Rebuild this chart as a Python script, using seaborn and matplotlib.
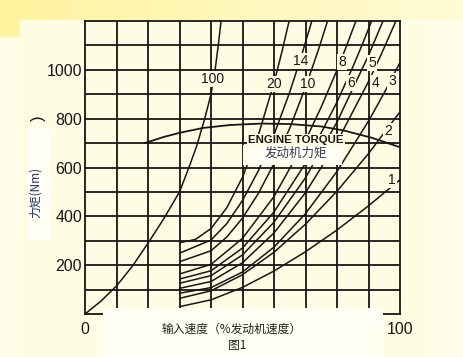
import numpy as np
import matplotlib
matplotlib.use('Agg')
import matplotlib.pyplot as plt
from matplotlib.patches import Rectangle
import seaborn as sns

# values: input speed (% engine speed) vs torque (Nm)
speed_100 = [0, 5, 10, 15, 20, 25, 30, 33, 35.5, 38, 40, 41.3, 42.3, 43.2]
torque_100 = [0, 52, 115, 195, 290, 390, 500, 600, 690, 800, 900, 1000, 1100, 1200]

speed_20 = [30, 35, 40, 45, 50, 55, 60, 62.5, 64.8]
torque_20 = [292, 305, 350, 435, 560, 731, 947, 1073, 1200]

speed_14 = [30, 40, 45, 50, 55, 60, 65, 68.6, 72]
torque_14 = [249, 303, 370, 465, 586, 734, 909, 1052, 1200]

speed_10 = [30, 40, 45, 50, 55, 60, 65, 70, 74, 77]
torque_10 = [214, 259, 315, 393, 493, 616, 761, 929, 1078, 1200]

speed_8 = [30, 40, 50, 60, 70, 75, 80, 83, 86]
torque_8 = [164, 203, 310, 481, 711, 848, 999, 1097, 1200]

speed_6 = [30, 40, 50, 60, 70, 80, 85, 88, 91]
torque_6 = [143, 177, 270, 418, 617, 868, 1011, 1103, 1200]

speed_5 = [30, 40, 50, 60, 70, 80, 90, 94.6]
torque_5 = [126, 157, 242, 376, 558, 786, 1059, 1200]

speed_4 = [30, 40, 50, 60, 70, 80, 90, 94, 98.7]
torque_4 = [105, 133, 210, 332, 497, 704, 952, 1062, 1200]

speed_3 = [30, 40, 50, 60, 70, 80, 90, 95, 100]
torque_3 = [85, 108, 172, 274, 411, 584, 790, 906, 1030]

speed_2 = [30, 40, 50, 60, 70, 80, 90, 100]
torque_2 = [64, 95, 161, 253, 368, 503, 657, 828]

speed_1 = [30, 40, 50, 60, 70, 80, 90, 100]
torque_1 = [30, 58, 109, 176, 255, 344, 443, 550]

speed_engine = [19, 25, 30, 37.5, 46, 56, 65, 75, 82, 91, 100]
torque_engine = [700, 725, 742, 762, 774, 780, 778, 768, 752, 722, 683]

curve_labels = ['100', '20', '14', '10', '8', '6', '5', '4', '3', '2', '1']
label_x = [40.6, 60.0, 68.6, 70.8, 81.6, 84.4, 91.1, 92.1, 97.5, 96.2, 97.5]
label_y = [962, 942, 1036, 942, 1032, 946, 1028, 946, 954, 749, 549]

x_ticks = [0, 100]
y_ticks = [200, 400, 600, 800, 1000]

curves = [
    (speed_100, torque_100), (speed_20, torque_20), (speed_14, torque_14),
    (speed_10, torque_10), (speed_8, torque_8), (speed_6, torque_6),
    (speed_5, torque_5), (speed_4, torque_4), (speed_3, torque_3),
    (speed_2, torque_2), (speed_1, torque_1),
]

sns.set_style('white')
plt.rcParams['font.family'] = ['Liberation Sans', 'DejaVu Sans']
CJK = ['Noto Sans CJK SC', 'DejaVu Sans']

PAGE = '#FFFDE8'
SCAN = '#FEFCE3'
LIGHT = '#FFFEF2'
INK = '#161616'

fig = plt.figure(figsize=(4.63, 3.57), dpi=100, facecolor=PAGE)

# page background (pixel coordinates)
bg = fig.add_axes([0, 0, 1, 1], zorder=-10)
grad = np.linspace(0, 1, 256)[:, None]
band = np.array([1.0, 0.955, 0.62]) * (1 - grad) + np.array([1.0, 0.985, 0.84]) * grad
bg.imshow(band[None, :, :], extent=[0, 463, 20, 0], aspect='auto')
bg.imshow(band[None, :18, :], extent=[0, 20, 37, 20], aspect='auto')
bg.add_patch(Rectangle((20, 20), 407, 337, fc=SCAN, ec='none'))
bg.set_xlim(0, 463)
bg.set_ylim(357, 0)
bg.axis('off')

# main chart
ax = fig.add_axes([85 / 463, 1 - 314 / 357, 315 / 463, 293 / 357])
ax.set_facecolor(SCAN)
ax.set_xlim(0, 100)
ax.set_ylim(0, 1200)

ax.vlines(range(10, 100, 10), 0, 1200, color=INK, lw=1.3, zorder=1)
ax.hlines(range(100, 1200, 100), 0, 100, color=INK, lw=1.3, zorder=1)
for s in ax.spines.values():
    s.set_color(INK)
    s.set_linewidth(1.3)

for xs, ys in curves:
    sns.lineplot(x=xs, y=ys, ax=ax, color=INK, lw=1.1, sort=False,
                 estimator=None, zorder=2)
sns.lineplot(x=speed_engine, y=torque_engine, ax=ax, color=INK, lw=1.3,
             sort=False, estimator=None, zorder=2)

for t, x, y in zip(curve_labels, label_x, label_y):
    ax.text(x, y, t, ha='center', va='center', fontsize=10, color=INK,
            zorder=4, bbox=dict(boxstyle='square,pad=0.08', fc=SCAN, ec='none'))

ax.add_patch(Rectangle((50.2, 610), 31.4, 82, fc=LIGHT, ec='none', zorder=3))
ax.text(67, 712, 'ENGINE TORQUE', ha='center', va='center', fontsize=8.2,
        fontweight='bold', color=INK, zorder=4,
        bbox=dict(boxstyle='square,pad=0.1', fc=SCAN, ec='none'))
ax.text(66.8, 659, '发动机力矩', ha='center', va='center', fontsize=9,
        family=CJK, color='#3a3a5a', zorder=4)

ax.set_xticks(x_ticks)
ax.set_yticks(y_ticks)
ax.tick_params(axis='both', length=0, labelsize=11.5, colors=INK)
ax.tick_params(axis='x', pad=6)
ax.tick_params(axis='y', pad=2)
ax.set_xlabel('')
ax.set_ylabel('')

# overlay: light boxes and captions (pixel coordinates)
ov = fig.add_axes([0, 0, 1, 1], zorder=5)
ov.set_xlim(0, 463)
ov.set_ylim(357, 0)
ov.axis('off')
ov.patch.set_alpha(0)
ov.add_patch(Rectangle((103, 308), 280, 49, fc=LIGHT, ec='none'))
ov.add_patch(Rectangle((26, 128), 24, 112, fc=LIGHT, ec='none'))
ov.text(232, 329, '输入速度（%发动机速度）', ha='center', va='center',
        fontsize=8.5, family=CJK, color='#222222')
ov.text(237, 346, '图1', ha='center', va='center', fontsize=8.5,
        family=CJK, color='#222222')
ov.text(35, 192, '力矩(Nm)', ha='center', va='center', rotation=90,
        fontsize=8.5, family=CJK, color='#1f2f6f')
ov.text(38, 118, ')', ha='center', va='center', rotation=90, fontsize=12,
        color=INK)

fig.savefig('out.png', dpi=100, facecolor=PAGE)
